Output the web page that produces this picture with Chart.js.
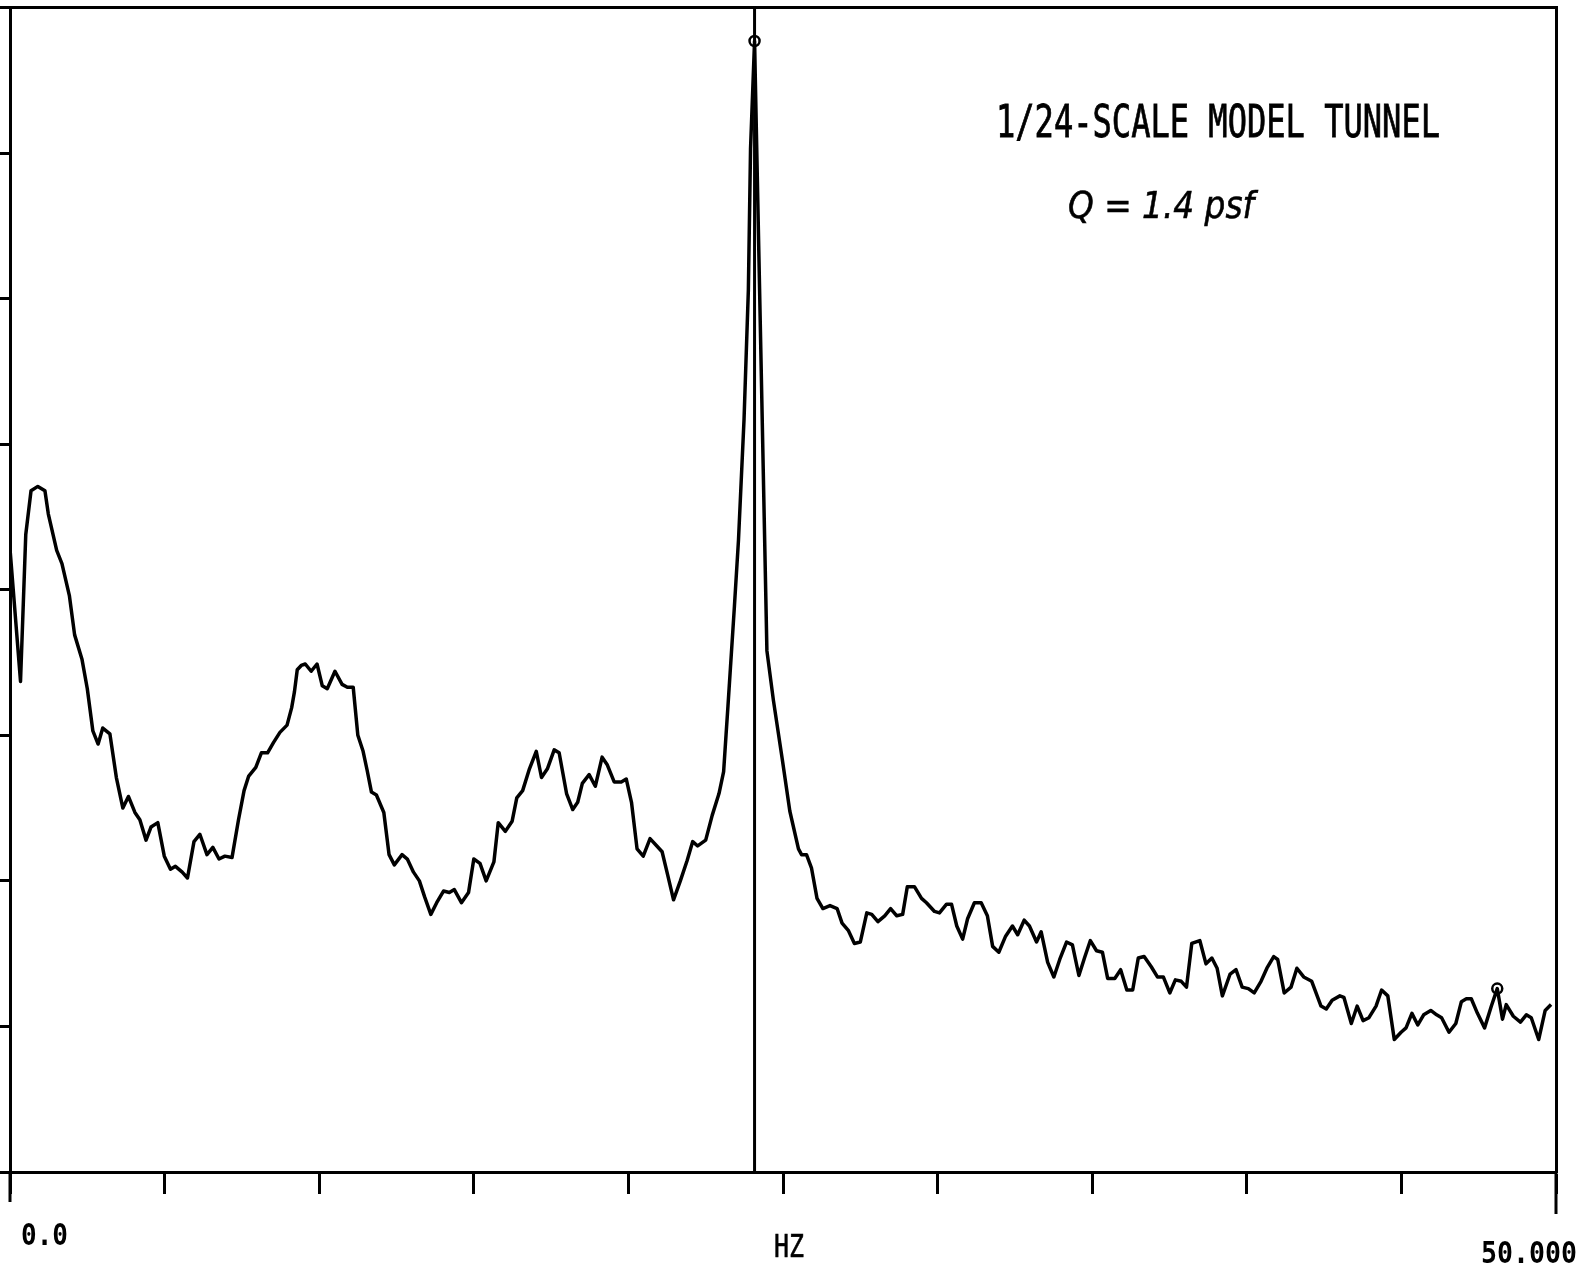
<!DOCTYPE html>
<html>
<head>
<meta charset="utf-8">
<title>1/24-Scale Model Tunnel spectrum</title>
<script src="https://cdn.jsdelivr.net/npm/chart.js@4.4.1/dist/chart.umd.min.js"></script>
<style>
  html, body { margin: 0; padding: 0; background: #fff; }
  #wrap { width: 1585px; height: 1270px; }
</style>
</head>
<body>
<div id="wrap"><canvas id="spectrum" width="1585" height="1270"></canvas></div>
<script>
/* ---- Data ---- */
const freqHz = [
  0.00, 0.34, 0.51, 0.68, 0.90, 1.13, 1.24, 1.51, 1.68, 1.92,
  2.09, 2.33, 2.50, 2.68, 2.85, 3.00, 3.23, 3.44, 3.65, 3.83,
  4.04, 4.20, 4.40, 4.56, 4.78, 4.99, 5.19, 5.35, 5.57, 5.74,
  5.95, 6.14, 6.37, 6.56, 6.76, 6.95, 7.18,
  7.39, 7.57, 7.72, 7.95, 8.13, 8.33, 8.52, 8.73, 8.96, 9.11,
  9.20, 9.29, 9.42, 9.55, 9.74, 9.93, 10.10, 10.26, 10.51, 10.74,
  10.91, 11.10, 11.25, 11.42, 11.55, 11.69, 11.85, 12.09, 12.26, 12.43,
  12.68, 12.85, 13.05, 13.24, 13.41, 13.61, 13.80, 14.02, 14.21, 14.37,
  14.60, 14.83, 15.00, 15.20, 15.40, 15.65, 15.79, 16.02, 16.24, 16.39,
  16.58, 16.80, 17.02, 17.19, 17.38, 17.60, 17.76, 18.00, 18.20, 18.36,
  18.51, 18.73, 18.93, 19.15, 19.31, 19.54, 19.77, 19.93, 20.10, 20.28,
  20.48, 20.70, 20.92, 21.09, 21.26, 21.46, 21.68, 21.90, 22.08, 22.24,
  22.50, 22.71, 22.93, 23.08, 23.16, 23.22, 23.43, 23.56, 23.74, 23.88,
  23.95, 24.08,
  24.48, 24.69, 24.98, 25.22, 25.50, 25.60, 25.76, 25.92, 26.10, 26.29,
  26.52, 26.75, 26.91, 27.11, 27.31, 27.50, 27.71, 27.87, 28.07, 28.29,
  28.48, 28.68, 28.87, 29.02, 29.25, 29.48, 29.64, 29.90, 30.06, 30.29,
  30.45, 30.62, 30.81, 30.97, 31.19, 31.41, 31.61, 31.78, 31.98, 32.20,
  32.42, 32.59, 32.80, 32.97, 33.20, 33.35, 33.56, 33.76, 33.95, 34.17,
  34.36, 34.57, 34.75, 34.94, 35.14, 35.33, 35.50, 35.73, 35.92, 36.12,
  36.31, 36.49, 36.68, 36.91, 37.11, 37.30, 37.51, 37.69, 37.88, 38.05,
  38.22, 38.48, 38.68, 38.87, 39.04, 39.21, 39.46, 39.65, 39.85, 40.05,
  40.24, 40.46, 40.65, 40.87, 41.00, 41.21, 41.43, 41.62, 41.84, 42.10,
  42.40, 42.57, 42.76, 43.01, 43.14, 43.38, 43.57, 43.76, 43.95, 44.18,
  44.36, 44.56, 44.77, 44.99, 45.15, 45.34, 45.53, 45.72, 45.95, 46.14,
  46.30, 46.54, 46.76, 46.94, 47.10, 47.26, 47.46, 47.69, 47.91, 48.10,
  48.27, 48.39, 48.62, 48.85, 49.04, 49.20, 49.44, 49.65, 49.84
];

const amplitude = [
  4.28, 3.37, 4.38, 4.68, 4.71, 4.68, 4.52, 4.27, 4.18, 3.96,
  3.69, 3.52, 3.32, 3.03, 2.94, 3.05, 3.01, 2.71, 2.50, 2.58,
  2.47, 2.42, 2.28, 2.37, 2.40, 2.17, 2.08, 2.10, 2.06, 2.02,
  2.27, 2.32, 2.18, 2.23, 2.15, 2.17, 2.16,
  2.42, 2.62, 2.72, 2.78, 2.88, 2.88, 2.95, 3.02, 3.07, 3.19,
  3.30, 3.45, 3.48, 3.49, 3.44, 3.49, 3.34, 3.32, 3.44, 3.35,
  3.33, 3.33, 3.00, 2.89, 2.76, 2.61, 2.59, 2.47, 2.18, 2.11,
  2.18, 2.15, 2.06, 2.00, 1.89, 1.77, 1.85, 1.93, 1.92, 1.94,
  1.85, 1.92, 2.15, 2.12, 2.00, 2.13, 2.40, 2.34, 2.41, 2.57,
  2.62, 2.77, 2.89, 2.71, 2.77, 2.90, 2.88, 2.60, 2.49, 2.54,
  2.67, 2.73, 2.65, 2.85, 2.80, 2.68, 2.68, 2.70, 2.54, 2.22,
  2.17, 2.29, 2.24, 2.20, 2.05, 1.87, 2.00, 2.14, 2.27, 2.24,
  2.28, 2.45, 2.60, 2.75, 3.01, 3.20, 3.89, 4.34, 5.17, 6.06,
  7.03, 7.77,
  3.58, 3.24, 2.83, 2.48, 2.22, 2.18, 2.18, 2.09, 1.88, 1.81,
  1.83, 1.81, 1.71, 1.66, 1.57, 1.58, 1.78, 1.77, 1.72, 1.76,
  1.81, 1.76, 1.77, 1.96, 1.96, 1.88, 1.85, 1.79, 1.78, 1.84,
  1.84, 1.69, 1.60, 1.74, 1.85, 1.85, 1.76, 1.55, 1.51, 1.62,
  1.69, 1.63, 1.73, 1.69, 1.58, 1.65, 1.44, 1.34, 1.46, 1.58,
  1.56, 1.35, 1.47, 1.59, 1.52, 1.51, 1.33, 1.33, 1.39, 1.25,
  1.25, 1.47, 1.48, 1.41, 1.34, 1.34, 1.23, 1.32, 1.31, 1.27,
  1.57, 1.59, 1.43, 1.47, 1.40, 1.21, 1.36, 1.39, 1.27, 1.26,
  1.23, 1.31, 1.40, 1.48, 1.46, 1.23, 1.27, 1.40, 1.34, 1.31,
  1.14, 1.12, 1.18, 1.21, 1.20, 1.02, 1.14, 1.04, 1.06, 1.14,
  1.25, 1.21, 0.91, 0.96, 0.99, 1.09, 1.01, 1.08, 1.11, 1.08,
  1.06, 0.96, 1.02, 1.17, 1.19, 1.19, 1.09, 0.99, 1.14, 1.26,
  1.05, 1.15, 1.07, 1.03, 1.08, 1.06, 0.91, 1.11, 1.15
];

// cursor marks (peak + second marker)
const markerFreqs = [24.08, 48.10];
const markerAmps = [7.77, 1.26];
const cursorFreq = 24.08;

// axes
const freqMin = 0, freqMax = 50, freqStep = 5;
const ampMin = 0, ampMax = 8, ampStep = 1;
const xLabelLeft = '0.0';
const xLabelMid = 'HZ';
const xLabelRight = '50.000';
const plotTitle = '1/24-SCALE MODEL TUNNEL';
const plotNote = 'Q = 1.4 psf';

/* ---- Text overlay ---- */
// draws text squeezed/stretched to a given width (plotter lettering is narrow)
function fitText(ctx, text, x, y, width, font, stroke) {
  ctx.save();
  ctx.font = font;
  const w = ctx.measureText(text).width;
  ctx.translate(x, y);
  ctx.scale(width / w, 1);
  ctx.textBaseline = 'alphabetic';
  ctx.fillStyle = '#000';
  ctx.fillText(text, 0, 0);
  if (stroke) {
    ctx.strokeStyle = '#000';
    ctx.lineWidth = stroke;
    ctx.strokeText(text, 0, 0);
  }
  ctx.restore();
}

const plotterText = {
  id: 'plotterText',
  beforeDraw(chart) {
    const { ctx, width, height } = chart;
    ctx.save();
    ctx.fillStyle = '#fff';
    ctx.fillRect(0, 0, width, height);
    ctx.restore();
  },
  afterDraw(chart) {
    const { ctx, chartArea } = chart;
    // frame ends run past the baseline a little
    ctx.save();
    ctx.strokeStyle = '#000';
    ctx.lineWidth = 3;
    ctx.beginPath();
    ctx.moveTo(chartArea.right, chartArea.bottom);
    ctx.lineTo(chartArea.right, chartArea.bottom + 42);
    ctx.moveTo(chartArea.left, chartArea.bottom);
    ctx.lineTo(chartArea.left, chartArea.bottom + 30);
    ctx.stroke();
    ctx.restore();

    fitText(ctx, plotTitle, 996, 137, 444, '45px "DejaVu Sans Mono"', 0.8);
    fitText(ctx, plotNote, 1068, 218, 186, 'italic 38px "DejaVu Sans"', 0.6);
    fitText(ctx, xLabelLeft, 21, 1245, 47, 'bold 31px "DejaVu Sans Mono"');
    fitText(ctx, xLabelMid, 774, 1257, 30, '32px "DejaVu Sans Mono"', 0.6);
    fitText(ctx, xLabelRight, 1481, 1263, 96, 'bold 31px "DejaVu Sans Mono"');
  }
};

/* ---- Chart ---- */
const spectrumPts = freqHz.map((f, i) => ({ x: f, y: amplitude[i] }));
const markerPts = markerFreqs.map((f, i) => ({ x: f, y: markerAmps[i] }));
const cursorPts = [{ x: cursorFreq, y: ampMin }, { x: cursorFreq, y: ampMax }];

const hiddenAxis = (axis, position, min, max) => ({
  type: 'linear', axis, position, min, max,
  ticks: { display: false },
  grid: { display: false, drawTicks: false },
  border: { display: true, color: '#000', width: 3 }
});

new Chart(document.getElementById('spectrum'), {
  type: 'scatter',
  data: {
    datasets: [
      {
        data: spectrumPts,
        showLine: true,
        borderColor: '#000',
        borderWidth: 3.5,
        borderJoinStyle: 'round',
        pointRadius: 0,
        tension: 0,
        xAxisID: 'x', yAxisID: 'y'
      },
      {
        data: cursorPts,
        showLine: true,
        borderColor: '#000',
        borderWidth: 3,
        pointRadius: 0,
        xAxisID: 'x', yAxisID: 'y'
      },
      {
        data: markerPts,
        showLine: false,
        pointRadius: 5,
        pointBorderWidth: 2.5,
        pointBorderColor: '#000',
        pointBackgroundColor: '#fff',
        xAxisID: 'x', yAxisID: 'y'
      }
    ]
  },
  options: {
    responsive: false,
    animation: false,
    devicePixelRatio: 1,
    layout: { padding: { left: 0, right: 29, top: 0, bottom: 76 } },
    plugins: { legend: { display: false }, tooltip: { enabled: false } },
    scales: {
      x: {
        type: 'linear', position: 'bottom', min: freqMin, max: freqMax,
        ticks: { display: false, stepSize: freqStep },
        grid: { drawOnChartArea: false, drawTicks: true, tickLength: 22, tickWidth: 3, tickColor: '#000' },
        border: { display: true, color: '#000', width: 3 }
      },
      y: {
        type: 'linear', position: 'left', min: ampMin, max: ampMax,
        ticks: { display: false, stepSize: ampStep },
        grid: { drawOnChartArea: false, drawTicks: true, tickLength: 10, tickWidth: 3, tickColor: '#000' },
        border: { display: true, color: '#000', width: 3 }
      },
      x2: hiddenAxis('x', 'top', freqMin, freqMax),
      y2: hiddenAxis('y', 'right', ampMin, ampMax)
    }
  },
  plugins: [plotterText]
});
</script>
</body>
</html>
